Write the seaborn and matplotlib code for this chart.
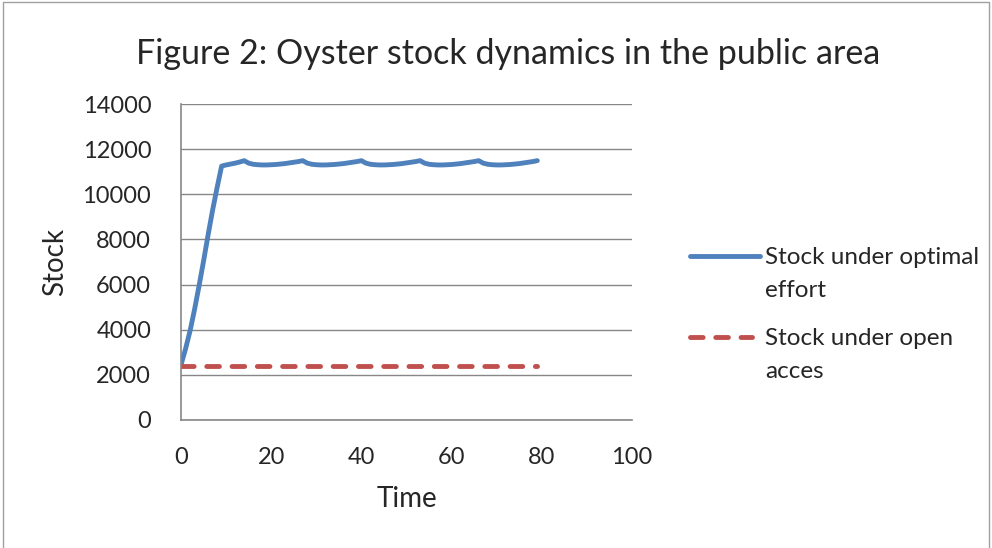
import numpy as np
import pandas as pd
import matplotlib
matplotlib.use("Agg")
import matplotlib.pyplot as plt
import seaborn as sns
from matplotlib.lines import Line2D

time = list(range(80))
optimal_stock = [
    2450, 3150, 3950, 4900, 5950, 7050, 8200, 9300, 10300, 11250,
    11300, 11340, 11380, 11430, 11490,
    11380, 11330, 11310, 11300, 11300, 11310, 11320, 11340, 11360, 11390, 11420, 11450, 11490,
    11380, 11330, 11310, 11300, 11300, 11310, 11320, 11340, 11360, 11390, 11420, 11450, 11490,
    11380, 11330, 11310, 11300, 11300, 11310, 11320, 11340, 11360, 11390, 11420, 11450, 11490,
    11380, 11330, 11310, 11300, 11300, 11310, 11320, 11340, 11360, 11390, 11420, 11450, 11490,
    11380, 11330, 11310, 11300, 11300, 11310, 11320, 11340, 11360, 11390, 11420, 11450, 11490,
]
open_access_stock = [
    2400, 2400, 2400, 2400, 2400, 2400, 2400, 2400, 2400, 2400,
    2400, 2400, 2400, 2400, 2400, 2400, 2400, 2400, 2400, 2400,
    2400, 2400, 2400, 2400, 2400, 2400, 2400, 2400, 2400, 2400,
    2400, 2400, 2400, 2400, 2400, 2400, 2400, 2400, 2400, 2400,
    2400, 2400, 2400, 2400, 2400, 2400, 2400, 2400, 2400, 2400,
    2400, 2400, 2400, 2400, 2400, 2400, 2400, 2400, 2400, 2400,
    2400, 2400, 2400, 2400, 2400, 2400, 2400, 2400, 2400, 2400,
    2400, 2400, 2400, 2400, 2400, 2400, 2400, 2400, 2400, 2400,
]
labels = ["Stock under optimal\neffort", "Stock under open\nacces"]

df = pd.DataFrame({"Time": time, "optimal": optimal_stock, "open": open_access_stock})

sns.set_style("white")
plt.rcParams["font.family"] = ["Lato", "DejaVu Sans"]

blue = "#4F81BD"
red = "#C0504D"
grid_c = "#878787"
dash = (0, (2.6, 2.6))
lw = 3.5

fig = plt.figure(figsize=(9.92, 5.48), dpi=100)
ax = fig.add_axes([0.1825, 0.2336, 0.4546, 0.5766])

sns.lineplot(data=df, x="Time", y="optimal", ax=ax, color=blue, linewidth=lw,
             solid_capstyle="round", solid_joinstyle="round")
sns.lineplot(data=df, x="Time", y="open", ax=ax, color=red, linewidth=lw,
             linestyle=dash, dash_capstyle="round")

ax.set_xlim(0, 100)
ax.set_ylim(0, 14000)
ax.set_xticks([0, 20, 40, 60, 80, 100])
ax.set_yticks(range(0, 14001, 2000))
ax.yaxis.grid(True, color=grid_c, linewidth=1)
ax.set_axisbelow(True)
for s in ["top", "right"]:
    ax.spines[s].set_visible(False)
for s in ["left", "bottom"]:
    ax.spines[s].set_color(grid_c)
    ax.spines[s].set_linewidth(1.2)
ax.tick_params(axis="y", left=False, labelsize=17, pad=18)
ax.tick_params(axis="x", bottom=False, labelsize=17, pad=16)
ax.set_xlabel("Time", fontsize=20, labelpad=13)
ax.set_ylabel("Stock", fontsize=20, labelpad=10)

fig.text(0.512, 0.902, "Figure 2: Oyster stock dynamics in the public area",
         fontsize=24.5, ha="center", va="center")

# legend drawn Excel-style: handle level with the first line of each label
leg_y = [1 - 256 / 548, 1 - 337 / 548]
leg_styles = [dict(color=blue, linewidth=lw, solid_capstyle="round"),
              dict(color=red, linewidth=lw, linestyle=dash, dash_capstyle="round")]
leg_x1 = [760 / 992, 752 / 992]
for y, style, x1, label in zip(leg_y, leg_styles, leg_x1, labels):
    fig.add_artist(Line2D([690 / 992, x1], [y, y], transform=fig.transFigure, **style))
    fig.text(765 / 992, y - 10 / 548, label, fontsize=17.5, ha="left",
             va="center_baseline", linespacing=1.7)

# outer chart frame
fig.add_artist(Line2D([0.003, 0.003, 0.997, 0.997], [0.0, 0.997, 0.997, 0.0],
                      transform=fig.transFigure, color="#a0a0a0", linewidth=1))

fig.savefig("out.png", dpi=100)
